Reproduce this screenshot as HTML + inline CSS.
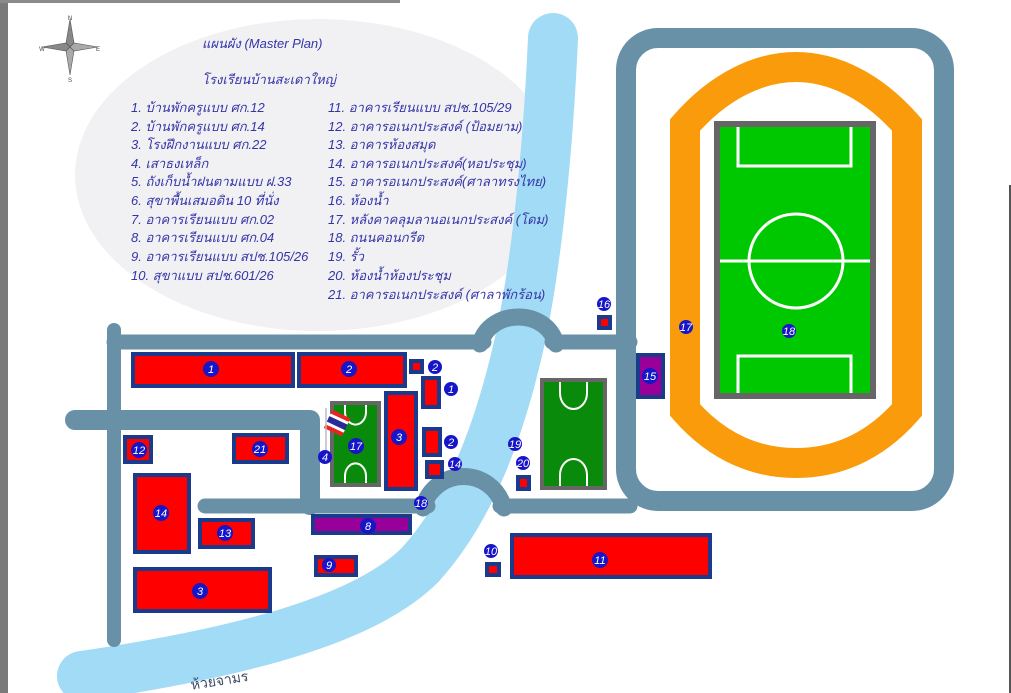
<!DOCTYPE html>
<html><head><meta charset="utf-8"><style>
html,body{margin:0;padding:0;background:#fff;}
svg{display:block;}
.t{font-family:"Liberation Sans","Noto Sans CJK SC",sans-serif;font-style:italic;fill:#3434a8;font-size:13px;}
.n{font-family:"Liberation Sans",sans-serif;font-style:italic;fill:#fff;font-size:11px;text-anchor:middle;}
.b{fill:#ff0000;stroke:#1b3a8c;stroke-width:4;}
</style></head><body>
<svg width="1011" height="693" viewBox="0 0 1011 693" xmlns="http://www.w3.org/2000/svg">
<rect width="1011" height="693" fill="#fff"/>
<rect x="0" y="0" width="8" height="693" fill="#7a7a7a"/>
<rect x="0" y="0" width="400" height="3" fill="#8a8a8a"/>
<rect x="1009" y="185" width="2" height="508" fill="#555"/>
<ellipse cx="318" cy="175" rx="243" ry="156" fill="#f1f1f3"/>
<!-- river -->
<path d="M553,38 C548,150 537,260 520,340 C500,430 470,510 420,565 C370,615 260,650 82,676" fill="none" stroke="#a2dbf5" stroke-width="50" stroke-linecap="round"/>
<text x="190" y="686" font-family="Liberation Sans,'Noto Sans CJK SC',sans-serif" font-size="14" fill="#3b4a66" transform="rotate(-9 215 678)">ห้วยจามร</text>
<!-- compass -->
<g transform="translate(70,47)" fill="#888" stroke="#555" stroke-width="0.6">
<polygon points="0,-28 4,-4 0,0 -4,-4"/><polygon points="0,28 4,4 0,0 -4,4" fill="#aaa"/>
<polygon points="28,0 4,4 0,0 4,-4" fill="#aaa"/><polygon points="-28,0 -4,4 0,0 -4,-4"/>
</g>
<g font-family="Liberation Sans" font-size="6" fill="#444" text-anchor="middle">
<text x="70" y="20">N</text><text x="70" y="82">S</text><text x="42" y="51">W</text><text x="98" y="51">E</text></g>
<!-- text -->
<text class="t" x="202" y="48" font-size="13">แผนผัง (Master Plan)</text>
<text class="t" x="202" y="84" font-size="13">โรงเรียนบ้านสะเดาใหญ่</text>
<g class="t">
<text x="131" y="112">1. บ้านพักครูแบบ ศก.12</text>
<text x="131" y="131">2. บ้านพักครูแบบ ศก.14</text>
<text x="131" y="149">3. โรงฝึกงานแบบ ศก.22</text>
<text x="131" y="168">4. เสาธงเหล็ก</text>
<text x="131" y="186">5. ถังเก็บน้ำฝนตามแบบ ฝ.33</text>
<text x="131" y="205">6. สุขาพื้นเสมอดิน 10 ที่นั่ง</text>
<text x="131" y="224">7. อาคารเรียนแบบ ศก.02</text>
<text x="131" y="242">8. อาคารเรียนแบบ ศก.04</text>
<text x="131" y="261">9. อาคารเรียนแบบ สปช.105/26</text>
<text x="131" y="280">10. สุขาแบบ สปช.601/26</text>
<text x="328" y="112">11. อาคารเรียนแบบ สปช.105/29</text>
<text x="328" y="131">12. อาคารอเนกประสงค์ (ป้อมยาม)</text>
<text x="328" y="149">13. อาคารห้องสมุด</text>
<text x="328" y="168">14. อาคารอเนกประสงค์(หอประชุม)</text>
<text x="328" y="186">15. อาคารอเนกประสงค์(ศาลาทรงไทย)</text>
<text x="328" y="205">16. ห้องน้ำ</text>
<text x="328" y="224">17. หลังคาคลุมลานอเนกประสงค์ (โดม)</text>
<text x="328" y="242">18. ถนนคอนกรีต</text>
<text x="328" y="261">19. รั้ว</text>
<text x="328" y="280">20. ห้องน้ำห้องประชุม</text>
<text x="328" y="299">21. อาคารอเนกประสงค์ (ศาลาพักร้อน)</text>
</g>
<!-- roads -->
<g fill="none" stroke="#6891a8" stroke-linecap="round">
<rect x="626" y="38" width="318" height="463" rx="32" stroke-width="20"/>
<path d="M114,330 L114,640" stroke-width="14"/>
<path d="M114,342 L484,342 M552,342 L630,342" stroke-width="15"/>
<path d="M480,344 C490,308 547,308 556,344" stroke-width="17"/>
<path d="M75,420 L310,420 L310,505" stroke-width="20" stroke-linejoin="round"/>
<path d="M205,506 L428,506 M500,506 L630,506" stroke-width="15"/>
<path d="M423,508 C435,466 492,466 504,508" stroke-width="17"/>
</g>
<!-- track -->
<path d="M685,125 C720,85 760,67 796,67 C832,67 872,85 907,125 L907,410 C872,450 832,463 796,463 C760,463 720,450 685,410 Z" fill="none" stroke="#f99b0a" stroke-width="30"/>
<rect x="717" y="124" width="156" height="272" fill="#00c800" stroke="#666" stroke-width="6"/>
<g fill="none" stroke="#fff" stroke-width="3">
<path d="M738,127 L738,166 L851,166 L851,127"/>
<path d="M738,393 L738,356 L851,356 L851,393"/>
<line x1="720" y1="261" x2="870" y2="261"/>
<circle cx="796" cy="261" r="47"/>
</g>
<!-- buildings -->
<rect class="b" x="133" y="354" width="160" height="32"/>
<rect class="b" x="299" y="354" width="106" height="32"/>
<rect class="b" x="411" y="361" width="11" height="11"/>
<rect class="b" x="423" y="378" width="16" height="29"/>
<rect class="b" x="386" y="393" width="30" height="96"/>
<rect class="b" x="424" y="429" width="16" height="26"/>
<rect class="b" x="427" y="462" width="15" height="15"/>
<rect x="313" y="516" width="97" height="17" fill="#990099" stroke="#1b3a8c" stroke-width="4"/>
<rect class="b" x="316" y="557" width="40" height="18"/>
<rect class="b" x="125" y="437" width="26" height="25"/>
<rect class="b" x="234" y="435" width="53" height="27"/>
<rect class="b" x="135" y="475" width="54" height="77"/>
<rect class="b" x="200" y="520" width="53" height="27"/>
<rect class="b" x="135" y="569" width="135" height="42"/>
<rect class="b" x="487" y="564" width="12" height="11"/>
<rect class="b" x="512" y="535" width="198" height="42"/>
<rect class="b" x="518" y="477" width="11" height="12"/>
<rect class="b" x="599" y="317" width="11" height="11"/>
<rect x="638" y="355" width="25" height="42" fill="#990099" stroke="#1b3a8c" stroke-width="4"/>
<!-- courts -->
<rect x="332" y="403" width="47" height="82" fill="#0a8a0a" stroke="#666" stroke-width="4"/>
<path d="M345,405 L345,412 A10,12 0 0 0 366,412 L366,405 M345,483 L345,476 A10,12 0 0 1 366,476 L366,483" fill="none" stroke="#fff" stroke-width="2"/>
<rect x="542" y="380" width="63" height="108" fill="#0a8a0a" stroke="#666" stroke-width="4"/>
<path d="M560,382 L560,393 A13.5,16 0 0 0 587,393 L587,382 M560,486 L560,475 A13.5,16 0 0 1 587,475 L587,486" fill="none" stroke="#fff" stroke-width="2"/>
<!-- flag -->
<g transform="rotate(25 334 425)">
<rect x="326" y="412" width="20" height="4" fill="#e22"/><rect x="326" y="416" width="20" height="3" fill="#fff"/>
<rect x="326" y="419" width="20" height="6" fill="#2a2a9a"/><rect x="326" y="425" width="20" height="3" fill="#fff"/>
<rect x="326" y="428" width="20" height="4" fill="#e22"/></g>
<line x1="326" y1="408" x2="326" y2="452" stroke="#bbb" stroke-width="1.5"/>
<!-- number labels -->
<g fill="#1616c8">
<circle cx="211" cy="369" r="8"/><circle cx="349" cy="369" r="8"/><circle cx="435" cy="367" r="7"/>
<circle cx="451" cy="389" r="7"/><circle cx="399" cy="437" r="8"/><circle cx="451" cy="442" r="7"/>
<circle cx="455" cy="464" r="7"/><circle cx="356" cy="446" r="8"/><circle cx="325" cy="457" r="7"/>
<circle cx="421" cy="503" r="7"/><circle cx="368" cy="526" r="8"/><circle cx="329" cy="565" r="7"/>
<circle cx="139" cy="450" r="8"/><circle cx="260" cy="449" r="8"/><circle cx="161" cy="513" r="8"/>
<circle cx="225" cy="533" r="8"/><circle cx="200" cy="591" r="8"/><circle cx="491" cy="551" r="7"/>
<circle cx="600" cy="560" r="8"/><circle cx="515" cy="444" r="7"/><circle cx="523" cy="463" r="7"/>
<circle cx="604" cy="304" r="7"/><circle cx="686" cy="327" r="7"/><circle cx="789" cy="331" r="7"/>
<circle cx="650" cy="376" r="8"/></g>
<g class="n">
<text x="211" y="373">1</text><text x="349" y="373">2</text><text x="435" y="371">2</text>
<text x="451" y="393">1</text><text x="399" y="441">3</text><text x="451" y="446">2</text>
<text x="455" y="468">14</text><text x="356" y="450">17</text><text x="325" y="461">4</text>
<text x="421" y="507">18</text><text x="368" y="530">8</text><text x="329" y="569">9</text>
<text x="139" y="454">12</text><text x="260" y="453">21</text><text x="161" y="517">14</text>
<text x="225" y="537">13</text><text x="200" y="595">3</text><text x="491" y="555">10</text>
<text x="600" y="564">11</text><text x="515" y="448">19</text><text x="523" y="467">20</text>
<text x="604" y="308">16</text><text x="686" y="331">17</text><text x="789" y="335">18</text>
<text x="650" y="380">15</text></g>
</svg>
</body></html>
